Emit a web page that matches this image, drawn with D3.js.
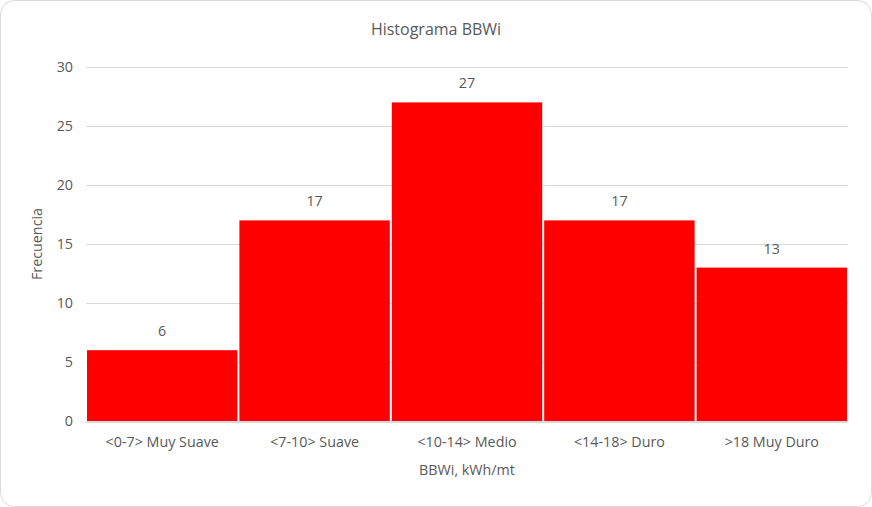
<!DOCTYPE html>
<html>
<head>
<meta charset="utf-8">
<script src="https://cdn.jsdelivr.net/npm/d3@7"></script>
<style>
  body { margin: 0; background: #fff; }
  text { font-family: "Open Sans", "Liberation Sans", sans-serif; fill: #595959; }
</style>
</head>
<body>
<div id="container"></div>
<script>
// data
const categories = ["<0-7> Muy Suave", "<7-10> Suave", "<10-14> Medio", "<14-18> Duro", ">18 Muy Duro"];
const frecuencias = [6, 17, 27, 17, 13];
const yTicks = [0, 5, 10, 15, 20, 25, 30];

const width = 872, height = 507,
  margin = {top: 67, bottom: 86, left: 87, right: 25};
const fontSize = "14.3px";

const svg = d3.select("#container").append("svg")
  .attr("width", width)
  .attr("height", height);

// chart border
svg.append("rect")
  .attr("x", 0.5).attr("y", 0.5)
  .attr("width", width - 1).attr("height", height - 1)
  .attr("rx", 14)
  .attr("fill", "#fff")
  .attr("stroke", "#d9d9d9");

const xScale = d3.scaleBand()
  .domain(categories)
  .range([margin.left, width - margin.right])
  .paddingInner(0.013);

const yScale = d3.scaleLinear()
  .domain([0, 30])
  .range([height - margin.bottom, margin.top]);

// gridlines
svg.append("g")
  .selectAll("line")
  .data(yTicks)
  .join("line")
    .attr("x1", margin.left - 1)
    .attr("x2", width - margin.right + 1)
    .attr("y1", d => Math.round(yScale(d)) + 0.5)
    .attr("y2", d => Math.round(yScale(d)) + 0.5)
    .attr("stroke", "#d9d9d9")
    .attr("stroke-width", 1);

// y axis labels
const yAxis = d3.axisLeft(yScale).tickValues(yTicks).tickSize(0).tickPadding(14);
svg.append("g")
  .attr("transform", `translate(${margin.left},0)`)
  .call(yAxis)
  .call(g => g.select(".domain").remove())
  .call(g => g.selectAll("text")
    .attr("font-size", fontSize)
    .attr("fill", "#595959")
    .style("font-family", "\"Open Sans\", sans-serif"));

// bars
svg.append("g")
  .selectAll("rect")
  .data(frecuencias)
  .join("rect")
    .attr("x", (d, i) => xScale(categories[i]))
    .attr("y", d => yScale(d))
    .attr("width", xScale.bandwidth())
    .attr("height", d => yScale(0) - yScale(d))
    .attr("fill", "#ff0000");

// baseline
svg.append("line")
  .attr("x1", margin.left - 1)
  .attr("x2", width - margin.right + 1)
  .attr("y1", yScale(0) + 1)
  .attr("y2", yScale(0) + 1)
  .attr("stroke", "#d9d9d9")
  .attr("stroke-width", 2);

// value labels
svg.append("g")
  .selectAll("text")
  .data(frecuencias)
  .join("text")
    .attr("x", (d, i) => xScale(categories[i]) + xScale.bandwidth() / 2)
    .attr("y", d => yScale(d) - 14)
    .attr("text-anchor", "middle")
    .attr("font-size", fontSize)
    .text(d => d);

// x axis labels
const xAxis = d3.axisBottom(xScale).tickSize(0).tickPadding(16);
svg.append("g")
  .attr("transform", `translate(0,${yScale(0)})`)
  .call(xAxis)
  .call(g => g.select(".domain").remove())
  .call(g => g.selectAll("text")
    .attr("font-size", fontSize)
    .attr("fill", "#595959")
    .style("font-family", "\"Open Sans\", sans-serif"));

// title
svg.append("text")
  .attr("x", 436).attr("y", 35)
  .attr("text-anchor", "middle")
  .attr("font-size", "16px")
  .text("Histograma BBWi");

// axis titles
svg.append("text")
  .attr("x", 467).attr("y", 475)
  .attr("text-anchor", "middle")
  .attr("font-size", fontSize)
  .text("BBWi, kWh/mt");

svg.append("text")
  .attr("transform", "translate(42,244) rotate(-90)")
  .attr("text-anchor", "middle")
  .attr("font-size", fontSize)
  .text("Frecuencia");
</script>
</body>
</html>
